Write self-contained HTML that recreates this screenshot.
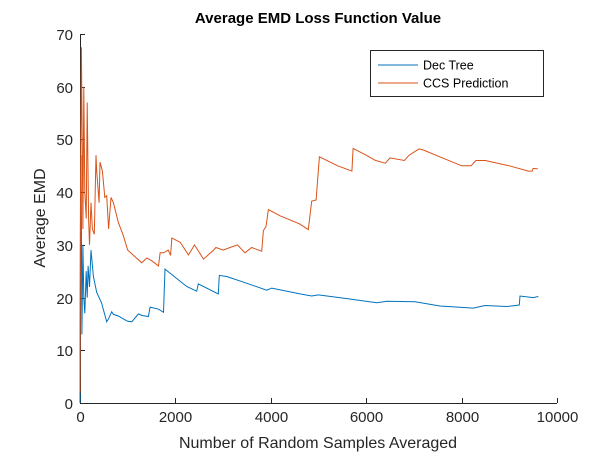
<!DOCTYPE html>
<html><head><meta charset="utf-8"><style>
body{margin:0;background:#fff;}
svg{display:block;font-family:"Liberation Sans",Arial,sans-serif;}
</style></head><body>
<svg id="chart" width="615" height="454">
<rect width="615" height="454" fill="#fff"/>
<text x="318" y="23" font-size="15" font-weight="bold" text-anchor="middle" fill="#000">Average EMD Loss Function Value</text>
<g id="grid-ticks"></g>
<g id="series"></g>
<text x="318" y="448" font-size="16" text-anchor="middle" fill="#262626">Number of Random Samples Averaged</text>
<text transform="translate(45,218) rotate(-90)" font-size="16" text-anchor="middle" fill="#262626">Average EMD</text>
<g>
<rect x="370.5" y="50.5" width="173" height="46" fill="#fff" stroke="#262626" stroke-width="1"/>
<line x1="378" y1="65" x2="418" y2="65" stroke="#0072BD" stroke-width="1"/>
<text x="423" y="69.5" font-size="12.5" fill="#000">Dec Tree</text>
<line x1="378" y1="83" x2="418" y2="83" stroke="#D95319" stroke-width="1"/>
<text x="423" y="87.5" font-size="12.5" fill="#000">CCS Prediction</text>
</g>
</svg>
<script>
const xTicks=[0,2000,4000,6000,8000,10000];
const yTicks=[0,10,20,30,40,50,60,70];
const decX=[0,10,20,40,60,80,100,130,150,170,200,230,280,350,450,560,600,665,700,805,900,1000,1085,1225,1300,1435,1470,1645,1750,1783,2236,2446,2481,2900,2921,3075,3500,3914,4019,4612,4857,4997,5600,6220,6430,7023,7547,8246,8491,8945,9210,9224,9504,9608];
const decY=[0,38,47,13,30,20,17,25,20,26,22,29,24,21,19,15.4,16,17.3,16.8,16.5,16,15.5,15.4,16.9,16.6,16.4,18.2,17.8,17.2,25.4,22.1,21.2,22.6,20.7,24.2,24,22.7,21.4,21.8,20.7,20.3,20.5,19.8,19.0,19.3,19.2,18.4,18.0,18.5,18.3,18.6,20.3,20.0,20.2];
const ccsX=[0,10,30,50,60,80,100,130,150,180,200,230,260,300,335,350,400,419,470,520,560,600,650,700,805,900,1000,1294,1400,1500,1645,1680,1750,1850,1900,1925,2100,2275,2400,2590,2800,2850,3000,3145,3300,3460,3600,3809,3844,3900,3949,4200,4600,4787,4857,4950,5018,5400,5700,5725,6000,6200,6400,6500,6800,6900,7107,7200,7600,8000,8200,8300,8500,8600,9000,9400,9480,9500,9600];
const ccsY=[2,40,67.5,45,33,60,40,35,57,35,30,38,33,32,47,44,38,45.7,44,39,39.3,33,39,38,34.2,32,29,26.6,27.5,27,26,28.5,28.5,29,28,31.3,30.5,28.1,30,27.3,29,29.5,29,29.5,30,28.5,29.5,28.8,32.7,33.5,36.7,35.5,34,32.9,38.3,38.5,46.7,45,44,48.3,47,46,45.5,46.5,46,47,48.2,48,46.5,45,45,46,46,45.8,45,44,44,44.5,44.4];
const NS="http://www.w3.org/2000/svg";
const X0=80,X1=557,Y0=403,Y1=34;
function sx(v){return X0+(v-0)/(10000-0)*(X1-X0);}
function sy(v){return Y0-(v-0)/(70-0)*(Y0-Y1);}
const ax=document.getElementById('grid-ticks');
function mk(t,a,p){const e=document.createElementNS(NS,t);for(const k in a)e.setAttribute(k,a[k]);p.appendChild(e);return e;}
let e=mk('line',{x1:X0+0.5,y1:Y0+0.5,x2:X1,y2:Y0+0.5,stroke:'#262626','stroke-width':1},ax);


e=mk('line',{x1:X0+0.5,y1:Y0+0.5,x2:X0+0.5,y2:Y1,stroke:'#262626','stroke-width':1},ax);


xTicks.forEach(v=>{const x=Math.round(sx(v))+0.5;
 let t=mk('line',{x1:x,y1:Y0,x2:x,y2:Y0-5,stroke:'#262626'},ax);
 
 
 let l=mk('text',{x:x,y:Y0+19,'font-size':15,'text-anchor':'middle',fill:'#262626'},ax);l.textContent=v;
 
 });
yTicks.forEach(v=>{const y=Math.round(sy(v))+0.5;
 let t=mk('line',{x1:X0,y1:y,x2:X0+5,y2:y,stroke:'#262626'},ax);
 
 
 let l=mk('text',{x:X0-7,y:y+5.5,'font-size':15,'text-anchor':'end',fill:'#262626'},ax);l.textContent=v;
 
 });
const sg=document.getElementById('series');
function line(xs,ys){return xs.map((v,i)=>sx(v).toFixed(1)+','+sy(ys[i]).toFixed(1)).join(' ');}
let p1=mk('polyline',{points:line(decX,decY),fill:'none',stroke:'#0072BD','stroke-width':1},sg);


let p2=mk('polyline',{points:line(ccsX,ccsY),fill:'none',stroke:'#D95319','stroke-width':1},sg);


</script>
</body></html>
